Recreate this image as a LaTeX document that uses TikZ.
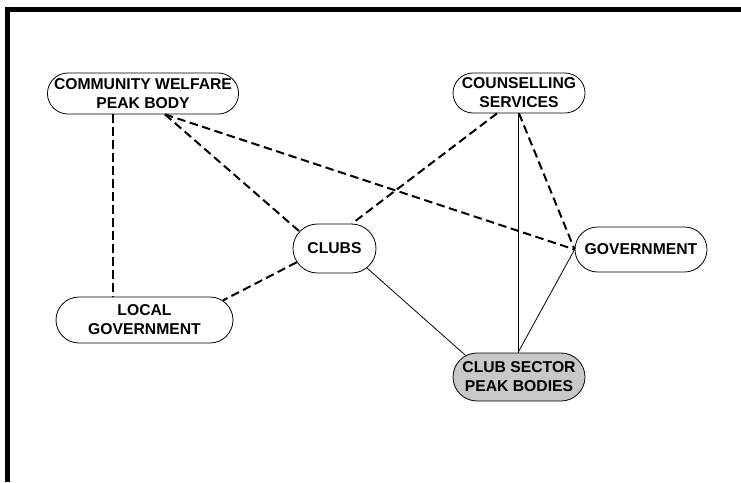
\documentclass[tikz,border=0pt]{standalone}
\usepackage{fontspec}
\setmainfont{Liberation Sans}
\usetikzlibrary{shapes.misc}
\definecolor{peakfill}{RGB}{200,200,200}
\tikzset{
  org/.style={rounded rectangle, draw=black, line width=0.8pt, fill=white,
    inner sep=0pt, align=center,
    font=\bfseries\fontsize{15.7}{19}\selectfont},
  weak/.style={line width=2pt, dash pattern=on 8.5pt off 4.5pt},
  strong/.style={line width=0.8pt}
}
\begin{document}
\begin{tikzpicture}[x=1pt,y=-1pt]
  \useasboundingbox (0,0) rectangle (741,482);
  % frame on the top and left sides
  \draw[line width=5pt, line join=miter] (7,482) -- (7,9.5) -- (741,9.5);

  % organisations
  \node[org, minimum width=190pt, minimum height=41pt] (cwpb) at (143,93.5) {COMMUNITY WELFARE\\PEAK BODY};
  \node[org, minimum width=132pt, minimum height=40pt] (couns) at (519,93) {COUNSELLING\\SERVICES};
  \node[org, minimum width=83pt, minimum height=49pt] (clubs) at (334.5,248.5) {CLUBS};
  \node[org, minimum width=132pt, minimum height=45pt] (gov) at (641,249.5) {GOVERNMENT};
  \node[org, minimum width=177pt, minimum height=46pt] (lg) at (144.5,320) {LOCAL\\GOVERNMENT};
  \node[org, fill=peakfill, minimum width=132pt, minimum height=48pt] (cs) at (519,377) {CLUB SECTOR\\PEAK BODIES};

  % anchor points on the node borders
  \coordinate (cwpbA) at ([xshift=-30pt]cwpb.south);
  \coordinate (cwpbB) at ([xshift=22pt]cwpb.south);
  \coordinate (counsA) at ([xshift=-22pt]couns.south);
  \coordinate (counsB) at ([xshift=-1pt]couns.south);
  \coordinate (lgA) at (cwpbA |- lg.north);

  % weak (dashed) links
  \draw[weak] (cwpbA) -- (lgA);
  \draw[weak] (cwpbB) -- (clubs.154);
  \draw[weak] (cwpbB) -- (gov.west);
  \draw[weak] (counsA) -- (clubs.55);
  \draw[weak] (couns.south) -- (gov.west);
  \draw[weak] (clubs.200) -- (lg.14);

  % strong (solid) links
  \draw[strong] (counsB) -- (counsB |- cs.north);
  \draw[strong] (clubs.-31) -- (cs.158);
  \draw[strong] (gov.west) -- (counsB |- cs.north);
\end{tikzpicture}
\end{document}
